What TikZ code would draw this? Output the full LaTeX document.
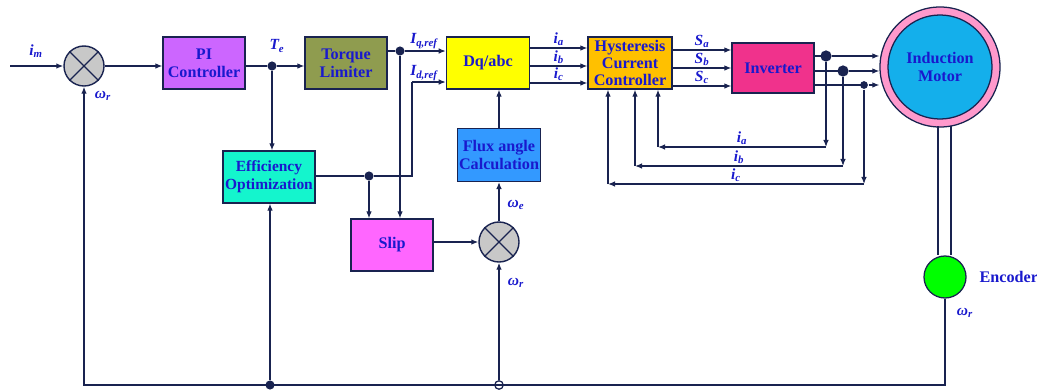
\documentclass[tikz,border=0pt]{standalone}
\usepackage{fontspec}
\setmainfont{Liberation Serif}
\usetikzlibrary{arrows.meta,positioning,shapes}
\definecolor{wire}{RGB}{25,35,80}
\definecolor{txtblue}{RGB}{25,25,205}
\definecolor{piviolet}{RGB}{204,102,255}
\definecolor{tlolive}{RGB}{143,156,79}
\definecolor{dqyellow}{RGB}{255,255,0}
\definecolor{hcorange}{RGB}{255,192,0}
\definecolor{invpink}{RGB}{240,50,140}
\definecolor{effaqua}{RGB}{20,245,205}
\definecolor{slippink}{RGB}{255,102,255}
\definecolor{fluxblue}{RGB}{51,153,255}
\definecolor{motorpink}{RGB}{255,153,204}
\definecolor{motorblue}{RGB}{20,175,235}
\definecolor{encgreen}{RGB}{0,255,0}
\definecolor{sumgray}{RGB}{200,200,200}
\newcommand{\sig}[2]{#1\textsubscript{#2}}
\tikzset{
  box/.style={draw=wire,line width=0.9pt,align=center,text=txtblue,inner sep=1pt,
              font=\bfseries\fontsize{11.5}{13}\selectfont,
              minimum width=2.05cm,minimum height=1.3cm},
  arr/.style={-{Latex[length=5pt,width=4pt]},wire,line width=0.9pt},
  ln/.style={wire,line width=0.9pt},
  pibox/.style={box,fill=piviolet},
  tlbox/.style={box,fill=tlolive},
  dqbox/.style={box,fill=dqyellow,minimum width=2.08cm},
  hcbox/.style={box,fill=hcorange,minimum width=2.1cm,
                font=\bfseries\fontsize{11.5}{12.2}\selectfont},
  invbox/.style={box,fill=invpink,minimum height=1.25cm},
  effbox/.style={box,fill=effaqua,minimum width=2.3cm,
                 font=\bfseries\fontsize{11}{13}\selectfont},
  slipbox/.style={box,fill=slippink},
  fluxbox/.style={box,fill=fluxblue,minimum width=2.08cm,minimum height=1.32cm},
  sumnode/.style={circle,draw=wire,line width=1pt,fill=sumgray,minimum size=1cm,inner sep=0pt},
  jdot/.style={circle,fill=wire,inner sep=0pt,minimum size=6.5pt},
  ringdot/.style={circle,draw=wire,line width=0.9pt,fill=white,inner sep=0pt,minimum size=6pt},
  sig/.style={text=txtblue,font=\bfseries\itshape\fontsize{11}{12}\selectfont,inner sep=1pt},
}

\begin{document}
\begin{tikzpicture}[x=0.025cm,y=-0.025cm]
\useasboundingbox (0,0) rectangle (1037,389);
% blocks
\node[sumnode] (sumA) at (84,66) {};
\node[pibox] (pic) at (204,63) {PI\\Controller};
\node[jdot] (teDot) at (272,66) {};
\node[tlbox] (torq) at (346,63) {Torque\\Limiter};
\node[jdot] (iqDot) at (400,51) {};
\node[dqbox] (dqabc) at (488,63) {Dq/abc};
\node[hcbox] (hyst) at (630,63) {Hysteresis\\Current\\Controller};
\node[invbox] (inv) at (773,68) {Inverter};
\node[circle,draw=wire,line width=0.9pt,fill=motorpink,minimum size=3cm] (motor) at (940,67) {};
\node[circle,draw=wire,line width=0.9pt,fill=motorblue,minimum size=2.6cm,align=center,
      text=txtblue,font=\bfseries\fontsize{11.5}{13}\selectfont] (motorIn) at (940,67) {Induction\\Motor};
\node[circle,draw=wire,line width=0.9pt,fill=encgreen,minimum size=1.05cm] (enc) at (945,277) {};
\node[right=0.2cm of enc,text=txtblue,font=\bfseries\fontsize{11.5}{13}\selectfont] (encTxt) {Encoder};
\node[effbox] (effo) at (269,177) {Efficiency\\Optimization};
\node[jdot] (effDot) at (369,176) {};
\node[slipbox] (slip) at (392,245) {Slip};
\node[sumnode] (sumB) at (499,242) {};
\node[fluxbox] (flux) at (499,155) {Flux angle\\Calculation};
\node[jdot] (fbDot) at (270,385) {};
\node[ringdot] (fbRing) at (499,385) {};
\foreach \s in {sumA,sumB}{
  \draw[ln] (\s.north east) -- (\s.south west) (\s.north west) -- (\s.south east);
}
% forward path
\coordinate (imIn) at (10,66);
\draw[arr] (imIn) -- (sumA);
\draw[arr] (sumA) -- (pic.west |- sumA);
\draw[ln] (pic.east |- teDot) -- (teDot);
\draw[arr] (teDot) -- (torq.west |- teDot);
\draw[arr] (teDot) -- (teDot |- effo.north);
\draw[ln] (torq.east |- iqDot) -- (iqDot);
\draw[arr] (iqDot) -- (dqabc.west |- iqDot);
\draw[arr] (iqDot) -- (iqDot |- slip.north);
\coordinate (idLow) at (412,176);
\coordinate (idUp) at (412,82);
\draw[ln] (effo.east |- effDot) -- (effDot) -- (idLow) -- (idUp);
\draw[arr] (idUp) -- (dqabc.west |- idUp);
\draw[arr] (effDot) -- (effDot |- slip.north);
\draw[arr] (slip.east |- sumB) -- (sumB);
\draw[arr] (sumB) -- (flux);
\draw[arr] (flux.north) -- (flux.north |- dqabc.south);
\draw[arr] (fbRing) -- (sumB);
\foreach \n/\yy in {a/48,b/66,c/83}{
  \draw[arr] (dqabc.east |- 0,\yy) -- (hyst.west |- 0,\yy)
    node[sig,midway,above] {\sig{i}{\n}};
}
\foreach \n/\yy in {a/50,b/68,c/86}{
  \draw[arr] (hyst.east |- 0,\yy) -- (inv.west |- 0,\yy)
    node[sig,midway,above] {\sig{S}{\n}};
}
% current feedback
\foreach \n/\yy/\xx/\yb/\xl/\ds in {a/56/826/147/658/8pt,b/71/843/166/635/8pt,c/85/864/184/608/5.5pt}{
  \draw[ln] (inv.east |- 0,\yy) -- (\xx,\yy) node[jdot,minimum size=\ds] (cur\n) {};
  \draw[arr] (cur\n) -- (motor.west |- cur\n);
  \coordinate (cnr\n) at (\xx,\yb);
  \coordinate (fdb\n) at (\xl,\yb);
  \draw[arr] (cur\n) -- (cnr\n);
  \draw[arr] (cnr\n) -- (fdb\n) node[sig,midway,above] {\sig{i}{\n}};
  \draw[arr] (fdb\n) -- (fdb\n |- hyst.south);
}
% shaft and speed feedback
\coordinate (shL) at (938,126);
\coordinate (shR) at (951,126);
\draw[ln] (shL) -- (shL |- enc.north) (shR) -- (shR |- enc.north);
\coordinate (encLow) at (enc.south |- fbDot);
\coordinate (sumLow) at (sumA.south |- fbDot);
\draw[arr] (enc.south) -- (encLow) -- (sumLow) -- (sumA.south);
\draw[arr] (fbDot) -- (fbDot |- effo.south);
% labels
\node[sig] (lIm) at (36,51) {\sig{i}{m}};
\node[sig] (lWrA) at (103,96) {\sig{ω}{r}};
\node[sig] (lTe) at (277,46) {\sig{T}{e}};
\node[sig] (lIq) at (424,41) {\sig{I}{q,ref}};
\node[sig] (lId) at (424,73) {\sig{I}{d,ref}};
\node[sig] (lWe) at (516,205) {\sig{ω}{e}};
\node[sig] (lWrB) at (516,283) {\sig{ω}{r}};
\node[sig] (lWrC) at (965,313) {\sig{ω}{r}};
\end{tikzpicture}
\end{document}
